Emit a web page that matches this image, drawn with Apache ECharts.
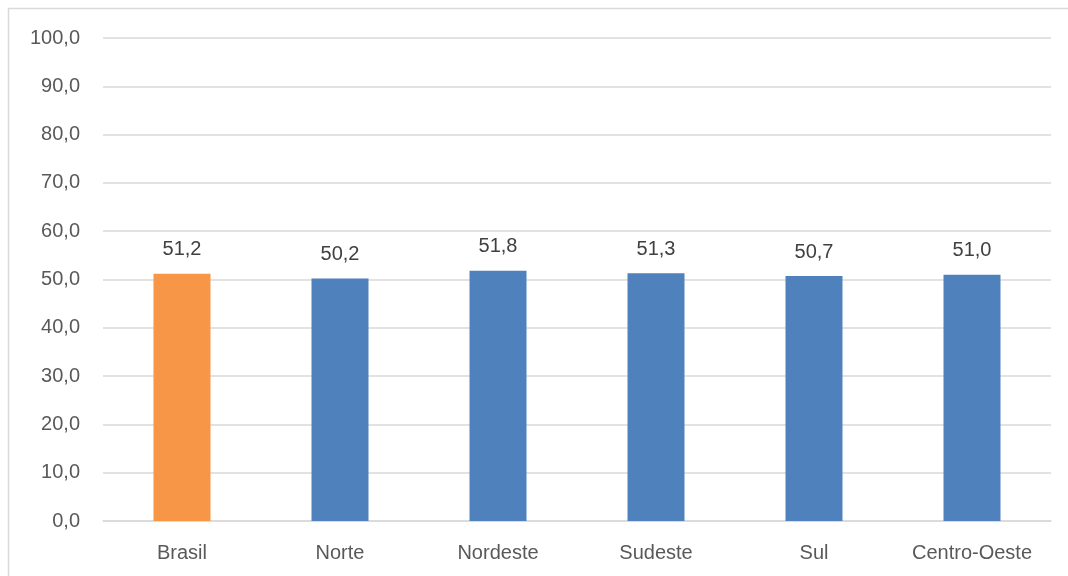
<!DOCTYPE html>
<html><head><meta charset="utf-8">
<script src="https://cdn.jsdelivr.net/npm/echarts@6/dist/echarts.min.js"></script>
<style>html,body{margin:0;padding:0;background:#fff}#c{width:1068px;height:576px}</style>
</head><body><div id="c"></div>
<script>
const categories = ['Brasil','Norte','Nordeste','Sudeste','Sul','Centro-Oeste'];
const values = [51.2, 50.2, 51.8, 51.3, 50.7, 51.0];
const barColors = ['#F79646','#4F81BD','#4F81BD','#4F81BD','#4F81BD','#4F81BD'];
const fmt = v => Number(v).toFixed(1).replace('.', ',');
const chart = echarts.init(document.getElementById('c'), null, {renderer:'canvas'});
const font = 'Liberation Sans, Arial, sans-serif';
chart.setOption({
  animation:false,
  graphic:[{type:'rect', shape:{x:8.5,y:8.5,width:1080,height:600}, style:{fill:'none',stroke:'#d9d9d9',lineWidth:1.5}, z:-1}],
  grid:{left:103,right:17,top:38,bottom:55},
  xAxis:{type:'category',data:categories,
    axisLine:{lineStyle:{color:'#d9d9d9',width:1.5}},axisTick:{show:false},
    axisLabel:{color:'#595959',fontSize:20,fontFamily:font,margin:22}},
  yAxis:{type:'value',min:0,max:100,interval:10,
    axisLine:{show:false},axisTick:{show:false},
    splitLine:{lineStyle:{color:'#d9d9d9',width:1.5}},
    axisLabel:{color:'#595959',fontSize:20,fontFamily:font,margin:23,formatter:fmt}},
  series:[{type:'bar',barWidth:57,
    data:values.map((v,i)=>({value:v,itemStyle:{color:barColors[i]}})),
    label:{show:true,position:'top',distance:14,color:'#404040',fontSize:20,fontFamily:font,formatter:p=>fmt(p.value)}}]
});
</script></body></html>
